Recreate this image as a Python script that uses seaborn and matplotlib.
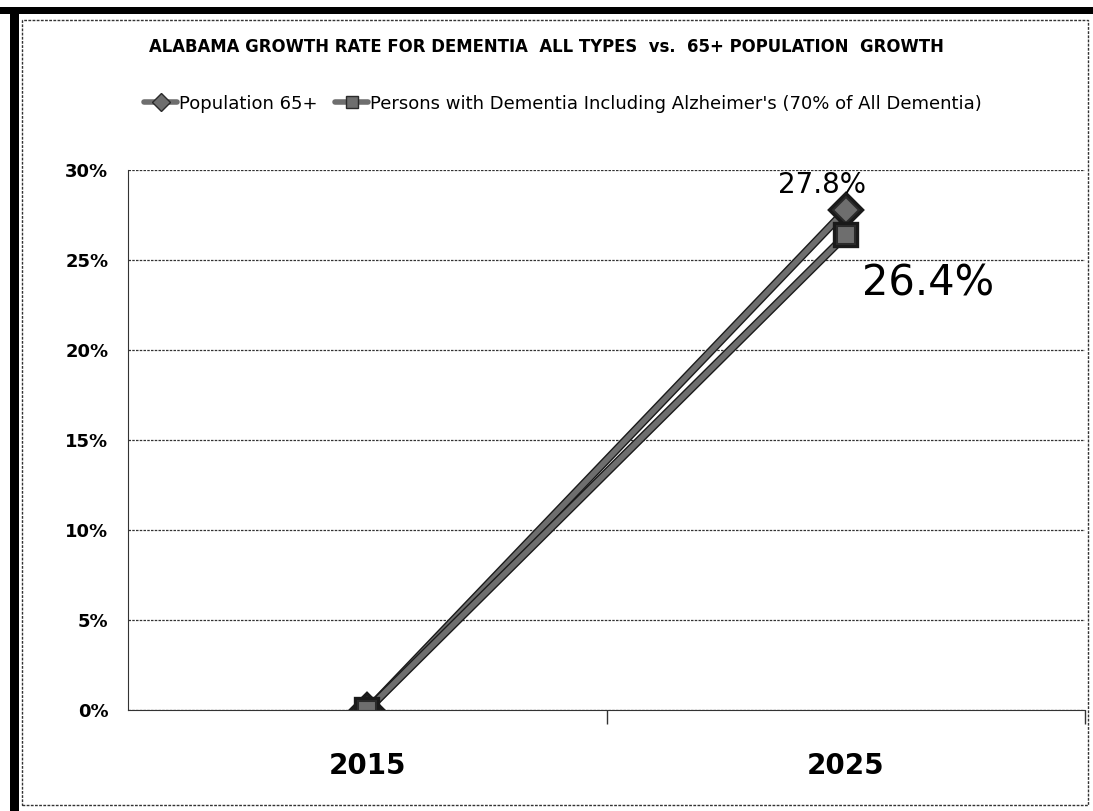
import pandas as pd
import seaborn as sns
import matplotlib.pyplot as plt
import matplotlib.patheffects as pe
from matplotlib.patches import Rectangle

years = ['2015', '2025']
pop65 = [0.0, 27.8]
dementia = [0.0, 26.4]
series = ['Population 65+', "Persons with Dementia Including Alzheimer's (70% of All Dementia)"]

df = pd.DataFrame({
    'Year': years * 2,
    'Growth': pop65 + dementia,
    'Series': [series[0]] * 2 + [series[1]] * 2,
})
df['x'] = df['Year'].map({y: i for i, y in enumerate(years)})

sns.set_style('white')
plt.rcParams['font.family'] = ['DejaVu Sans']
plt.rcParams['text.color'] = 'black'
plt.rcParams['xtick.color'] = 'black'
plt.rcParams['ytick.color'] = 'black'

fig = plt.figure(figsize=(10.93, 8.11), dpi=100)
ax = fig.add_axes([0.117, 0.1245, 0.876, 0.6655])

sns.lineplot(data=df, x='x', y='Growth', hue='Series', style='Series',
             markers={series[0]: 'D', series[1]: 's'}, dashes=False,
             palette=['#6e6e6e', '#6e6e6e'], linewidth=4,
             markersize=13, markeredgecolor='#2a2a2a', markeredgewidth=1.5,
             ax=ax, legend=False,
             path_effects=[pe.Stroke(linewidth=6, foreground='#1a1a1a'), pe.Normal()])

ax.set_xlim(-0.5, 1.5)
ax.set_ylim(0, 30)
ax.set_yticks(range(0, 31, 5))
ax.set_yticklabels([f'{v}%' for v in range(0, 31, 5)], fontsize=13, fontweight='bold')
ax.set_xticks([0, 1])
ax.set_xticklabels(years, fontsize=20, fontweight='bold')
ax.tick_params(axis='x', which='major', length=0, pad=30)
ax.tick_params(axis='y', length=0, pad=14)
ax.set_xticks([0.5, 1.5], minor=True)
ax.tick_params(axis='x', which='minor', bottom=True, length=10, width=1,
               color='#333333', direction='out')
ax.set_xlabel('')
ax.set_ylabel('')
ax.grid(axis='y', color='#333333', linestyle=(0, (2, 1)), linewidth=0.9)
for s in ['top', 'right']:
    ax.spines[s].set_visible(False)
ax.spines['left'].set_color('#333333')
ax.spines['bottom'].set_color('#333333')
ax.spines['bottom'].set_linestyle((0, (2, 1)))

ax.text(0.95, pop65[1] + 1.4, f'{pop65[1]}%', ha='center', va='center', fontsize=20)
ax.text(1.172, dementia[1] - 2.7, f'{dementia[1]}%', ha='center', va='center', fontsize=30)

fig.text(0.5, 0.942, 'ALABAMA GROWTH RATE FOR DEMENTIA  ALL TYPES  vs.  65+ POPULATION  GROWTH',
         ha='center', va='center', fontsize=11.9, fontweight='bold')

# legend
h0 = plt.Line2D([], [], color='#6e6e6e', lw=4, marker='D', markersize=9,
                markeredgecolor='#2a2a2a')
h1 = plt.Line2D([], [], color='#6e6e6e', lw=4, marker='s', markersize=9,
                markeredgecolor='#2a2a2a')
fig.legend([h0, h1], series, loc='center', bbox_to_anchor=(0.515, 0.872), ncol=2,
           frameon=False, fontsize=13, handlelength=1.8, handletextpad=0.1,
           columnspacing=1.0)

# scan frame
fig.patches.append(Rectangle((0.02, 0.008), 0.975, 0.967, transform=fig.transFigure,
                             fill=False, edgecolor='#333333', lw=1, linestyle=(0, (2, 1))))
fig.patches.append(Rectangle((0.009, 0.0), 0.008, 0.99, transform=fig.transFigure,
                             color='black', lw=0))
fig.patches.append(Rectangle((0.0, 0.983), 1.0, 0.008, transform=fig.transFigure,
                             color='black', lw=0))

fig.savefig('out.png', dpi=100)
